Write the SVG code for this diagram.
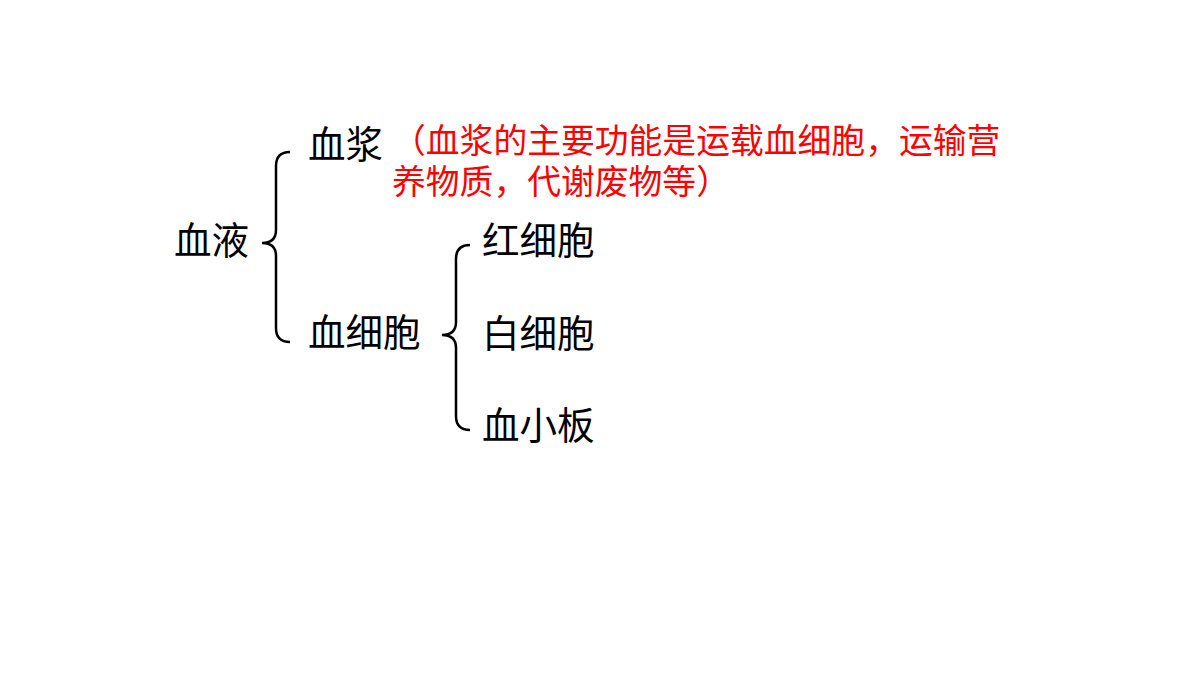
<svg xmlns="http://www.w3.org/2000/svg" width="1200" height="675" viewBox="0 0 1200 675">
<style>
.t{font-family:"Noto Sans CJK SC","Liberation Sans",sans-serif;font-size:37.5px;fill:#000}
.r{font-family:"Noto Sans CJK SC","Liberation Sans",sans-serif;font-size:33.8px;fill:#ff0000}
.b{fill:none;stroke:#000;stroke-width:2.5}
</style>
<rect width="1200" height="675" fill="#fff"/>
<g id="connectors">
<path class="b" d="M290,152 Q276,152 276,166 L276,230 Q276,243 262,243 Q276,243 276,256 L276,328 Q276,342 290,342"/>
<path class="b" d="M470,245 Q456,245 456,259 L456,322 Q456,335 442,335 Q456,335 456,348 L456,416 Q456,430 470,430"/>
</g>
<g id="n_blood"><text class="t" x="174" y="254">血液</text></g>
<g id="n_plasma"><text class="t" x="308" y="158">血浆</text></g>
<g id="n_note"><text class="r" x="392" y="153">（血浆的主要功能是运载血细胞，运输营</text><text class="r" x="392" y="194">养物质，代谢废物等）</text></g>
<g id="n_cells"><text class="t" x="308" y="346">血细胞</text></g>
<g id="n_rbc"><text class="t" x="482" y="254">红细胞</text></g>
<g id="n_wbc"><text class="t" x="482" y="347">白细胞</text></g>
<g id="n_plt"><text class="t" x="482" y="439">血小板</text></g>
</svg>
